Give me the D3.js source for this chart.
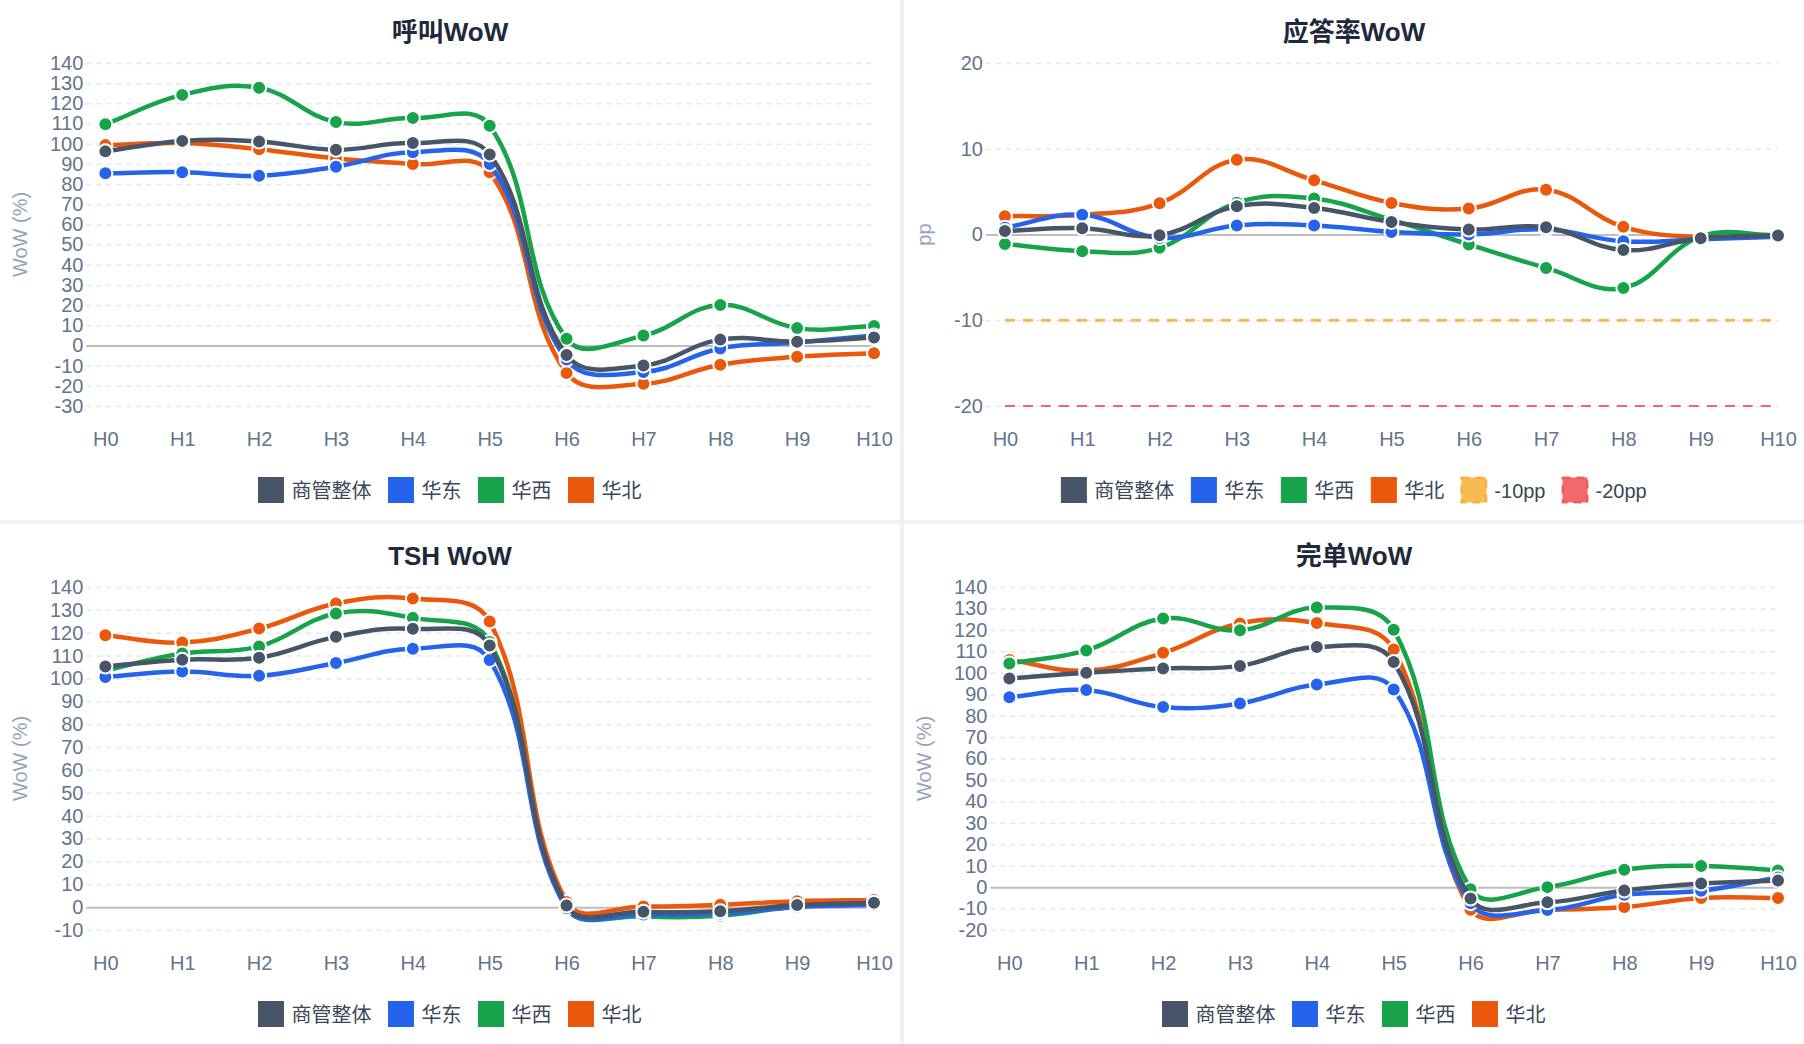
<!DOCTYPE html>
<html><head><meta charset="utf-8">
<script src="https://cdn.jsdelivr.net/npm/d3@7"></script>
<style>
html,body{margin:0;padding:0;background:#eef2f6;}
svg{display:block;}
</style></head><body>
<svg id="c" width="1804" height="1044"></svg>
<script>
// ---------------- DATA ----------------
const hours = ["H0","H1","H2","H3","H4","H5","H6","H7","H8","H9","H10"];
const seriesNames = ["商管整体","华东","华西","华北"];

// 呼叫WoW (%)
const callTotal = [96.2, 101.4, 101.1, 97.0, 100.3, 94.7, -4.7, -9.9, 2.9, 1.9, 3.9];
const callEast  = [85.3, 85.9, 84.1, 88.6, 95.8, 89.9, -7.0, -13.2, -1.5, 1.5, 5.0];
const callWest  = [109.6, 124.2, 127.7, 110.7, 112.7, 108.9, 3.3, 4.9, 20.1, 8.6, 9.6];
const callNorth = [99.3, 100.3, 97.3, 92.7, 89.9, 85.8, -13.6, -19.0, -9.6, -5.6, -3.8];
const callTicks = [140,130,120,110,100,90,80,70,60,50,40,30,20,10,0,-10,-20,-30];

// 应答率WoW (pp)
const answerTotal = [0.4, 0.74, -0.08, 3.3, 3.1, 1.47, 0.58, 0.85, -1.82, -0.43, -0.12];
const answerEast  = [0.8, 2.3, -0.4, 1.05, 1.05, 0.3, 0.0, 0.6, -0.8, -0.55, -0.25];
const answerWest  = [-1.1, -1.94, -1.55, 3.7, 4.2, 1.7, -1.16, -3.9, -6.24, -0.25, -0.05];
const answerNorth = [2.13, 2.3, 3.64, 8.72, 6.32, 3.68, 3.02, 5.23, 0.89, -0.3, -0.1];
const answerMinus10 = [-10,-10,-10,-10,-10,-10,-10,-10,-10,-10,-10];
const answerMinus20 = [-20,-20,-20,-20,-20,-20,-20,-20,-20,-20,-20];
const answerTicks = [20,10,0,-10,-20];

// TSH WoW (%)
const tshTotal = [105.2, 108.2, 109.1, 118.2, 121.7, 114.4, 0.7, -2.0, -1.8, 0.9, 1.9];
const tshEast  = [100.6, 103.0, 101.2, 106.8, 113.0, 108.1, -0.5, -3.2, -2.8, 0.1, 1.0];
const tshWest  = [103.5, 110.9, 114.0, 128.4, 126.5, 116.0, -0.5, -4.0, -3.8, 0.3, 1.4];
const tshNorth = [118.9, 115.7, 121.8, 132.8, 135.0, 124.9, 2.2, 0.3, 1.0, 2.6, 3.1];
const tshTicks = [140,130,120,110,100,90,80,70,60,50,40,30,20,10,0,-10];

// 完单WoW (%)
const doneTotal = [97.3, 100.0, 102.0, 103.2, 112.0, 105.0, -5.3, -7.1, -1.6, 1.7, 3.1];
const doneEast  = [88.6, 91.9, 84.0, 85.7, 94.5, 92.2, -7.5, -10.7, -3.6, -1.7, 4.5];
const doneWest  = [104.3, 110.4, 125.3, 119.8, 130.4, 120.1, -1.0, 0.0, 8.1, 9.9, 7.8];
const doneNorth = [106.0, 101.0, 109.3, 123.0, 123.2, 110.8, -10.6, -10.6, -9.3, -5.1, -5.1];
const doneTicks = [140,130,120,110,100,90,80,70,60,50,40,30,20,10,0,-10,-20];

// ---------------- STYLE ----------------
const seriesColors = ["#475569","#2563eb","#16a34a","#ea580c"];
const FONT = "'Liberation Sans', Arial, 'Noto Sans CJK SC', sans-serif";

const svg = d3.select("#c");

function measure(text, size, weight) {
  const t = svg.append("text").attr("font-family", FONT).attr("font-size", size)
    .attr("font-weight", weight || 400).text(text);
  const w = t.node().getComputedTextLength();
  t.remove();
  return w;
}

// Chart.js-like spline (tension, distance-weighted, control points capped to area)
function splinePath(pts, t, area) {
  const n = pts.length;
  const cps = pts.map((p, i) => {
    const p0 = pts[i - 1] || p, p2 = pts[i + 1] || p;
    const d01 = Math.hypot(p.x - p0.x, p.y - p0.y);
    const d12 = Math.hypot(p2.x - p.x, p2.y - p.y);
    let s01 = d01 / (d01 + d12), s12 = d12 / (d01 + d12);
    if (isNaN(s01)) s01 = 0;
    if (isNaN(s12)) s12 = 0;
    const fa = t * s01, fb = t * s12;
    return {
      prev: {x: p.x - fa * (p2.x - p0.x), y: p.y - fa * (p2.y - p0.y)},
      next: {x: p.x + fb * (p2.x - p0.x), y: p.y + fb * (p2.y - p0.y)}
    };
  });
  const cap = c => ({
    x: Math.max(area.left, Math.min(area.right, c.x)),
    y: Math.max(area.top, Math.min(area.bottom, c.y))
  });
  const path = d3.path();
  path.moveTo(pts[0].x, pts[0].y);
  for (let i = 1; i < n; i++) {
    const a = cap(cps[i - 1].next), b = cap(cps[i].prev);
    path.bezierCurveTo(a.x, a.y, b.x, b.y, pts[i].x, pts[i].y);
  }
  return path.toString();
}

function drawPanel(px, py, cfg) {
  const W = 900, H = 520;
  const g = svg.append("g").attr("transform", `translate(${px},${py})`);
  g.append("rect").attr("width", W).attr("height", H).attr("fill", "#ffffff");

  g.append("text")
    .attr("x", W / 2).attr("y", 32)
    .attr("text-anchor", "middle").attr("dominant-baseline", "central")
    .attr("font-family", FONT).attr("font-weight", 700).attr("font-size", 26)
    .attr("fill", "#1e293b").text(cfg.title);

  const labelW = d3.max(cfg.ticks, t => measure(String(t), 20));
  const left = 72 + labelW, right = 874, top = 63, bottom = 406;
  const area = {left, right, top, bottom};

  const x = d3.scalePoint().domain(hours).range([left, right]);
  const y = d3.scaleLinear().domain([d3.min(cfg.ticks), d3.max(cfg.ticks)]).range([bottom, top]);

  // y axis + grid
  const ya = g.append("g").attr("transform", `translate(${left - 19},0)`)
    .call(d3.axisLeft(y).tickValues(cfg.ticks).tickSize(-(right - left + 19)).tickPadding(3).tickFormat(d => String(d)));
  ya.select(".domain").remove();
  ya.selectAll(".tick line")
    .attr("stroke", d => d === 0 ? "#bdbdbd" : "#e2e8f0")
    .attr("stroke-width", d => d === 0 ? 2 : 1.5)
    .attr("stroke-dasharray", d => d === 0 ? null : "5,5");
  ya.selectAll(".tick text")
    .attr("font-family", FONT).attr("font-size", 20).attr("fill", "#64748b");

  // x axis labels
  const xa = g.append("g").attr("transform", `translate(0,${bottom})`)
    .call(d3.axisBottom(x).tickSize(0).tickPadding(25.5));
  xa.select(".domain").remove();
  xa.selectAll(".tick text")
    .attr("font-family", FONT).attr("font-size", 20).attr("fill", "#64748b");

  // y title
  g.append("text")
    .attr("transform", `translate(20,${(top + bottom) / 2}) rotate(-90)`)
    .attr("text-anchor", "middle").attr("dominant-baseline", "central")
    .attr("font-family", FONT).attr("font-size", 20).attr("fill", "#94a3b8")
    .text(cfg.yTitle);

  // series: drawn last-to-first so the first dataset is on top
  const seriesLayer = g.append("g");
  for (let si = cfg.series.length - 1; si >= 0; si--) {
    const s = cfg.series[si];
    const pts = s.values.map((v, i) => ({x: x(hours[i]), y: y(v)}));
    const sg = seriesLayer.append("g");
    sg.append("path")
      .attr("d", splinePath(pts, 0.4, area))
      .attr("fill", "none")
      .attr("stroke", s.color)
      .attr("stroke-width", s.width)
      .attr("stroke-dasharray", s.dash || null)
      .attr("stroke-linejoin", "round");
    if (!s.dash) {
      sg.selectAll("circle").data(s.values).join("circle")
        .attr("cx", (v, i) => x(hours[i]))
        .attr("cy", v => y(v))
        .attr("r", 7)
        .attr("fill", s.color)
        .attr("stroke", "#ffffff")
        .attr("stroke-width", 2);
    }
  }

  // legend
  const items = cfg.series.map(s => ({s, tw: measure(s.name, 20)}));
  const gap = 17, box = 25, textOff = 33;
  const total = d3.sum(items, d => textOff + d.tw) + gap * (items.length - 1);
  let cx = W / 2 - total / 2;
  const lg = g.append("g");
  items.forEach(d => {
    const it = lg.append("g").attr("transform", `translate(${cx},477.5)`);
    it.append("rect").attr("width", box).attr("height", box)
      .attr("fill", d.s.color)
      .attr("stroke", d.s.color)
      .attr("stroke-width", d.s.dash ? 2 : 1)
      .attr("stroke-dasharray", d.s.dash ? "8,6" : null);
    it.append("text").attr("x", textOff).attr("y", box / 2 + 0.5)
      .attr("dominant-baseline", "central")
      .attr("font-family", FONT).attr("font-size", 20).attr("fill", "#3b4657")
      .text(d.s.name);
    cx += textOff + d.tw + gap;
  });
}

function mainSeries(arrs) {
  return arrs.map((values, i) => ({name: seriesNames[i], values, color: seriesColors[i], width: 4.5}));
}

drawPanel(0, 0, {
  title: "呼叫WoW", yTitle: "WoW (%)", ticks: callTicks,
  series: mainSeries([callTotal, callEast, callWest, callNorth])
});
drawPanel(904, 0, {
  title: "应答率WoW", yTitle: "pp", ticks: answerTicks,
  series: mainSeries([answerTotal, answerEast, answerWest, answerNorth]).concat([
    {name: "-10pp", values: answerMinus10, color: "rgba(245,158,11,0.7)", width: 3, dash: "10,8"},
    {name: "-20pp", values: answerMinus20, color: "rgba(239,68,68,0.8)", width: 2, dash: "10,8"}
  ])
});
drawPanel(0, 524, {
  title: "TSH WoW", yTitle: "WoW (%)", ticks: tshTicks,
  series: mainSeries([tshTotal, tshEast, tshWest, tshNorth])
});
drawPanel(904, 524, {
  title: "完单WoW", yTitle: "WoW (%)", ticks: doneTicks,
  series: mainSeries([doneTotal, doneEast, doneWest, doneNorth])
});
</script>
</body></html>
